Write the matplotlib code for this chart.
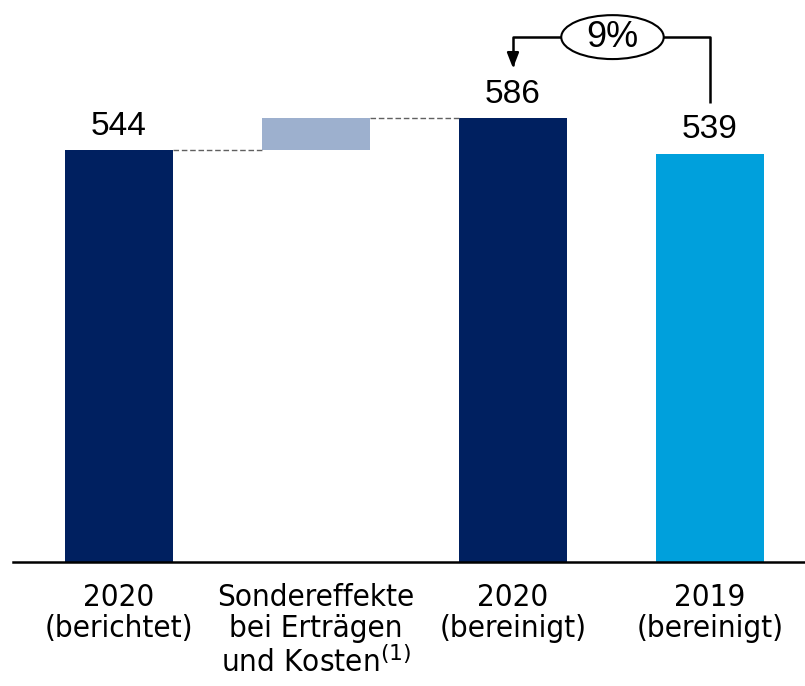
import matplotlib.pyplot as plt
from matplotlib.patches import Ellipse

# data
categories = ['2020\n(berichtet)', 'Sondereffekte\nbei Erträgen\nund Kosten$^{(1)}$',
              '2020\n(bereinigt)', '2019\n(bereinigt)']
reported = 544
adjusted = 586
prior = 539
growth = '9%'

navy = '#002060'
light = '#9DB0CE'
cyan = '#00A0DC'

fig = plt.figure(figsize=(8.05, 6.86), dpi=100)
ax = fig.add_axes([0.016, 0.1808, 0.984, 0.8192])

x = [0, 1, 2, 3]
w = 0.55
ax.bar(x[0], reported, width=w, color=navy)
ax.bar(x[1], adjusted - reported, bottom=reported, width=w, color=light)
ax.bar(x[2], adjusted, width=w, color=navy)
ax.bar(x[3], prior, width=w, color=cyan)

# connectors
ax.plot([x[0] + w/2, x[1] - w/2], [reported, reported], ls=(0, (4, 2)), color='#606060', lw=1)
ax.plot([x[1] + w/2, x[2] - w/2], [adjusted, adjusted], ls=(0, (4, 2)), color='#606060', lw=1)

# value labels
num_font = dict(family=['Liberation Sans', 'DejaVu Sans'], fontsize=24)
for xi, v in [(x[0], reported), (x[2], adjusted), (x[3], prior)]:
    ax.text(xi, v + 11, str(v), ha='center', va='bottom', **num_font)

# growth bracket
yb = adjusted + 107
cx = (x[2] + x[3]) / 2 + 0.005
ax.plot([cx, x[3], x[3]], [yb, yb, prior + 67], color='black', lw=1.8, solid_capstyle='butt')
ax.annotate('', xy=(x[2], adjusted + 66), xytext=(cx, yb),
            arrowprops=dict(arrowstyle='-|>,head_length=0.9,head_width=0.35', color='black',
                            lw=1.8, shrinkA=0, shrinkB=0,
                            connectionstyle='angle,angleA=0,angleB=90,rad=0'))
ax.add_patch(Ellipse((cx, yb), 0.52, 58, fc='white', ec='black', lw=1.5, zorder=5))
ax.text(cx, yb, growth, ha='center', va='center', zorder=6,
        family=['Liberation Sans', 'DejaVu Sans'], fontsize=26)

ax.set_xlim(-0.538, 3.482)
ax.set_ylim(0, 742)
ax.set_xticks(x)
ax.set_xticklabels(categories, family=['DejaVu Sans'], stretch='condensed',
                   fontsize=22.5, linespacing=1.1, va='top')
ax.tick_params(axis='x', length=0, pad=15)
ax.set_yticks([])
for s in ['top', 'right', 'left']:
    ax.spines[s].set_visible(False)
ax.spines['bottom'].set_linewidth(1.8)

fig.savefig('out.png', dpi=100)
